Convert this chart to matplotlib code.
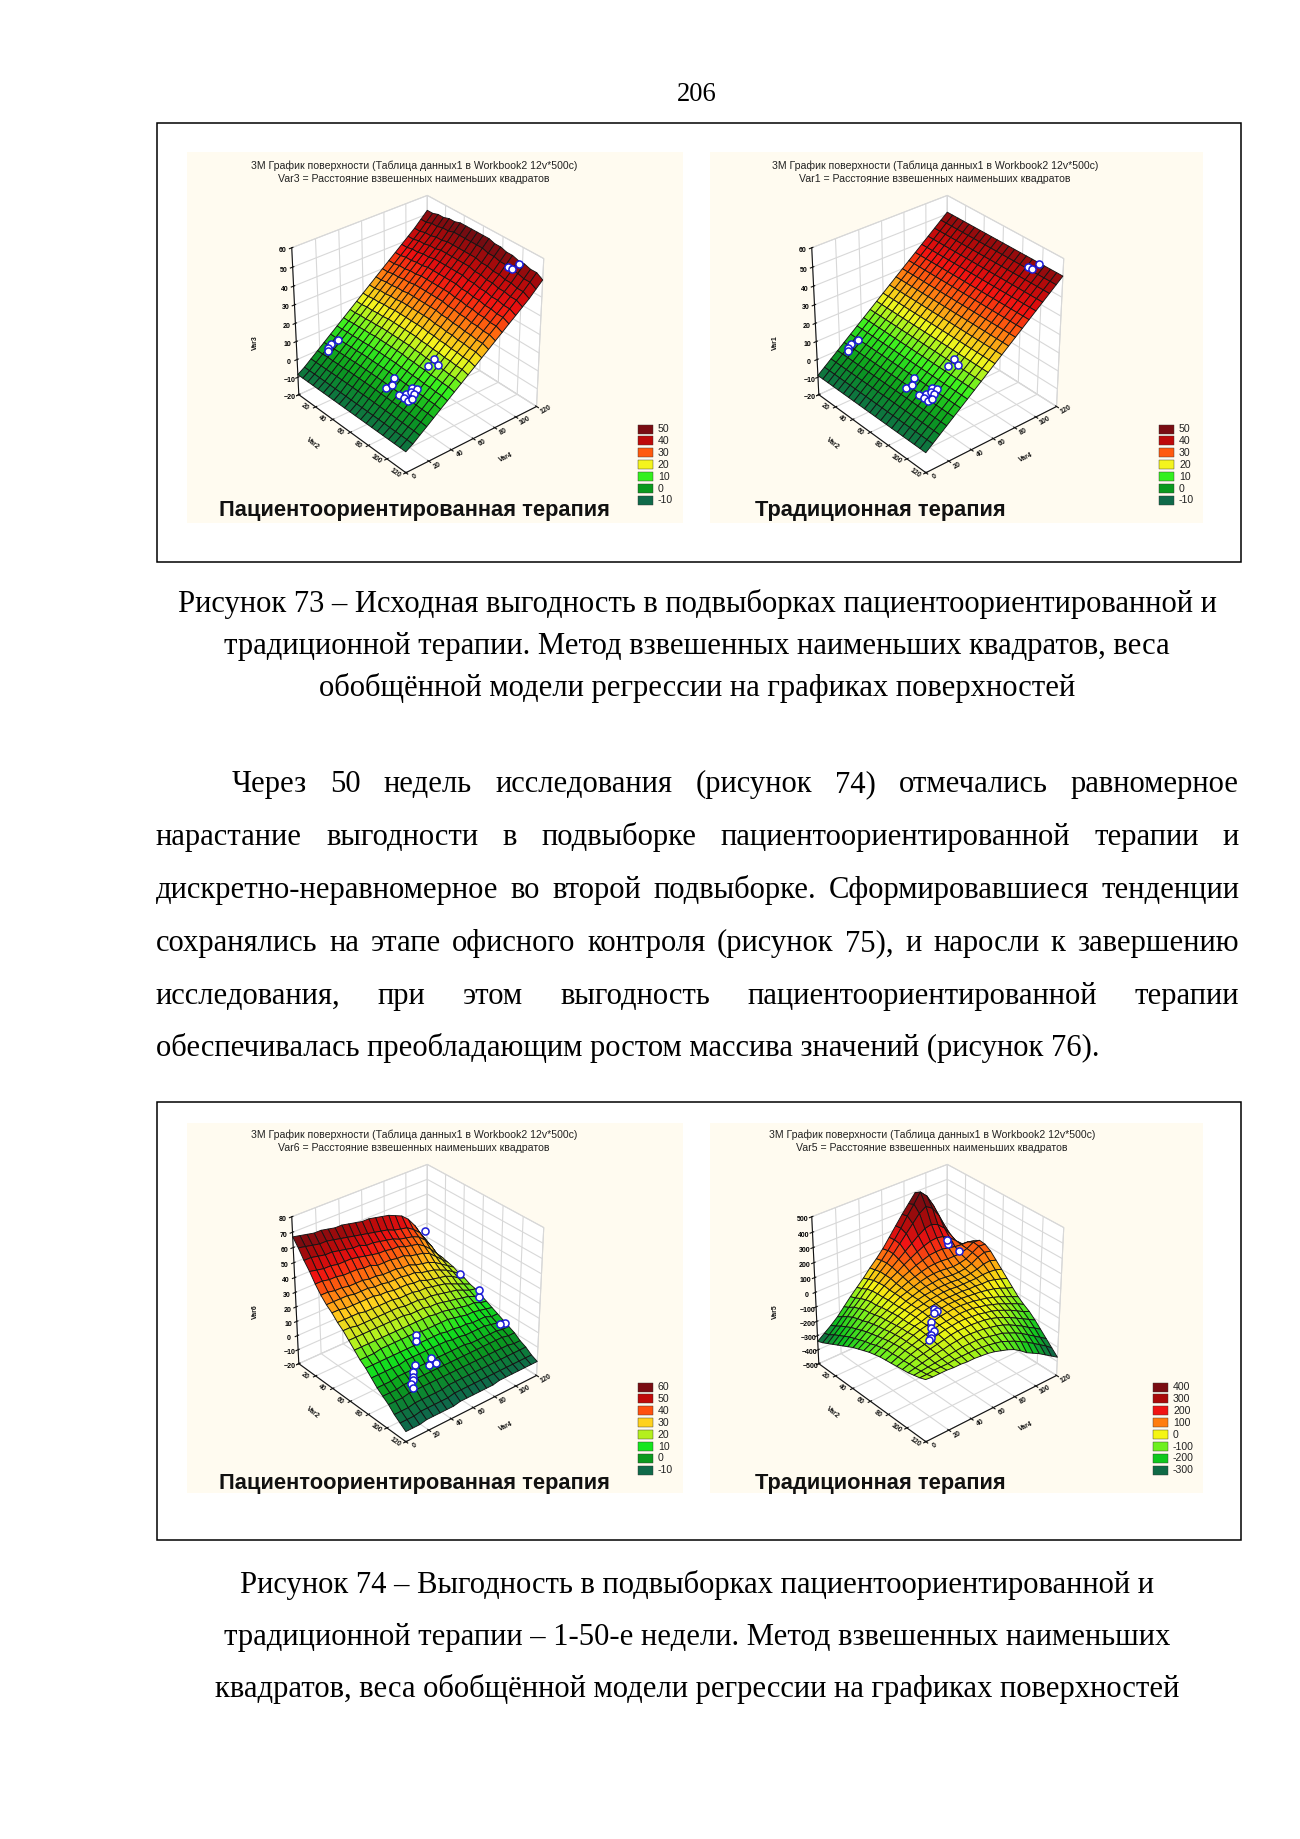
import numpy as np
import matplotlib
matplotlib.use('Agg')
import matplotlib.pyplot as plt
from matplotlib.colors import LinearSegmentedColormap, Normalize
from matplotlib.patches import Rectangle
from mpl_toolkits.mplot3d import proj3d

plt.rcParams['font.family'] = ['Liberation Sans', 'DejaVu Sans']

# подписи страницы
page_number = '206'
caption_73 = ['Рисунок 73 – Исходная выгодность в подвыборках пациентоориентированной и',
              'традиционной терапии. Метод взвешенных наименьших квадратов, веса',
              'обобщённой модели регрессии на графиках поверхностей']
caption_74 = ['Рисунок 74 – Выгодность в подвыборках пациентоориентированной и',
              'традиционной терапии – 1-50-е недели. Метод взвешенных наименьших',
              'квадратов, веса обобщённой модели регрессии на графиках поверхностей']
body_lines = ['Через 50 недель исследования (рисунок 74) отмечались равномерное',
              'нарастание выгодности в подвыборке пациентоориентированной терапии и',
              'дискретно-неравномерное во второй подвыборке. Сформировавшиеся тенденции',
              'сохранялись на этапе офисного контроля (рисунок 75), и наросли к завершению',
              'исследования, при этом выгодность пациентоориентированной терапии',
              'обеспечивалась преобладающим ростом массива значений (рисунок 76).']

title_top = '3М График поверхности (Таблица данных1 в Workbook2 12v*500c)'
title_var = ['Var3', 'Var1', 'Var6', 'Var5']
therapy_names = ['Пациентоориентированная терапия', 'Традиционная терапия',
                 'Пациентоориентированная терапия', 'Традиционная терапия']

# оси
x_ticks = [0, 20, 40, 60, 80, 100, 120]
y_ticks = [0, 20, 40, 60, 80, 100, 120]
z_ticks_50 = [-20, -10, 0, 10, 20, 30, 40, 50, 60]
z_ticks_60 = [-20, -10, 0, 10, 20, 30, 40, 50, 60, 70, 80]
z_ticks_400 = [-500, -400, -300, -200, -100, 0, 100, 200, 300, 400, 500]

# легенды
levels_50 = [50, 40, 30, 20, 10, 0, -10]
colors_50 = ['#7a0c12', '#be0a0a', '#ff5a0f', '#f4f41e', '#33f01e', '#0a9a1e', '#0f6a4a']
levels_60 = [60, 50, 40, 30, 20, 10, 0, -10]
colors_60 = ['#7a0c12', '#c00a0a', '#ff500f', '#ffd21e', '#b4f01e', '#14e61e', '#0a9a1e', '#0f6a4a']
levels_400 = [400, 300, 200, 100, 0, -100, -200, -300]
colors_400 = ['#7a0c12', '#aa0a0a', '#f01414', '#ff7d0f', '#f5f514', '#6ef01e', '#0fc81e', '#0f6a46']

# цвета самих поверхностей немного ярче легенды
surf_values_50 = [-10, 0, 10, 20, 30, 38, 47, 54]
surf_colors_50 = ['#0f6a4a', '#0a9a1e', '#33f01e', '#f4f41e', '#ff6a0f', '#f01010', '#b00a0a', '#6e0c12']
surf_values_60 = [-10, 0, 10, 20, 30, 40, 48, 57, 66]
surf_colors_60 = ['#0f6a4a', '#0a9a1e', '#14e61e', '#b4f01e', '#ffd21e', '#ff6a0f', '#f01010', '#b00a0a', '#6e0c12']
surf_values_400 = [-330, -230, -130, -30, 70, 170, 270, 400]
surf_colors_400 = ['#0f6a46', '#0fc81e', '#6ef01e', '#f5f514', '#ff7d0f', '#f01414', '#aa0a0a', '#6e0c12']

# поверхность Var3, строки по x, столбцы по y
z1_a = [-8.5, -6, -3, 0, 3, 6, 9, 12, 15, 18, 21, 24, 27, 30, 33, 36, 39, 42, 45, 48.5, 52]
z1_b = [-8.5, -5.9, -2.9, .2, 3.2, 6.3, 9.3, 12.4, 15.4, 18.5, 21.5, 24.6, 27.6, 30.7, 33.7, 36.8, 39.8, 42.9, 45.9, 49.5, 53]
z1_c = [-8.5, -5.9, -2.8, .3, 3.4, 6.5, 9.6, 12.7, 15.8, 18.9, 22, 25.1, 28.2, 31.3, 34.4, 37.5, 40.6, 43.7, 46.8, 50.4, 54]
z1_d = [-8.5, -5.9, -2.7, .5, 3.6, 6.8, 9.9, 13.1, 16.2, 19.4, 22.5, 25.7, 28.8, 32, 35.1, 38.3, 41.4, 44.6, 47.7, 51.4, 55]
z1_e = [-8.5, -6, -3.1, -.2, 2.8, 5.8, 8.7, 11.7, 14.6, 17.6, 20.5, 23.5, 26.4, 29.4, 32.3, 35.3, 38.2, 41.2, 44.1, 47.5, 51]
z1_f = [-8.5, -6.2, -3.3, -.5, 2.4, 5.3, 8.1, 11, 13.8, 16.7, 19.5, 22.4, 25.2, 28.1, 30.9, 33.8, 36.6, 39.5, 42.3, 45.7, 49]
z_var3 = [z1_a, z1_a, z1_b, z1_b, z1_c, z1_c, z1_d, z1_d, z1_d, z1_d, z1_d,
          z1_d, z1_c, z1_c, z1_b, z1_b, z1_a, z1_a, z1_e, z1_e, z1_f]

# поверхность Var1 - плоскость, одна строка на все x
z_var1_row = [-9, -6, -3, 0, 3, 6, 9, 12, 15, 18, 21, 24, 27, 30, 33, 36, 39, 42, 45, 48, 51]
z_var1 = [z_var1_row] * 21

z_var6 = [
    [67, 66, 65, 64, 64, 63, 62, 62, 61, 60, 59, 59, 58, 57, 56, 54, 52, 48, 42, 34, 24],
    [62, 61, 60, 59, 59, 58, 57, 56, 55, 54, 53, 52, 51, 50, 48, 47, 46, 43, 39, 32, 23],
    [56, 56, 55, 54, 54, 53, 52, 51, 51, 49, 49, 48, 47, 46, 44, 43, 42, 40, 36, 30, 22],
    [51, 50, 49, 49, 48, 48, 48, 47, 46, 45, 44, 44, 43, 43, 41, 40, 39, 36, 32, 27, 22],
    [45, 45, 44, 44, 43, 43, 43, 42, 42, 40, 40, 40, 39, 39, 37, 36, 35, 33, 29, 25, 21],
    [40, 40, 39, 39, 38, 38, 38, 37, 37, 36, 36, 36, 35, 35, 33, 32, 31, 29, 26, 23, 20],
    [36, 36, 36, 36, 35, 35, 35, 34, 34, 33, 33, 33, 32, 32, 30, 29, 28, 26, 24, 21, 18],
    [33, 33, 32, 32, 32, 32, 32, 31, 31, 30, 30, 30, 29, 29, 27, 26, 25, 24, 22, 19, 17],
    [29, 29, 29, 29, 28, 28, 28, 28, 28, 27, 27, 27, 26, 26, 25, 24, 23, 21, 19, 17, 15],
    [26, 26, 25, 25, 25, 25, 25, 25, 25, 24, 24, 24, 23, 23, 22, 21, 20, 19, 17, 15, 14],
    [22, 22, 22, 22, 22, 22, 22, 22, 22, 21, 21, 21, 20, 20, 19, 18, 17, 16, 15, 13, 12],
    [18, 18, 18, 18, 18, 18, 18, 18, 18, 18, 18, 18, 17, 17, 16, 15, 14, 13, 13, 11, 10],
    [14, 14, 14, 15, 15, 15, 15, 15, 15, 14, 14, 14, 14, 14, 13, 12, 11, 11, 10, 9, 8],
    [11, 11, 11, 11, 11, 11, 11, 11, 11, 11, 11, 11, 10, 10, 9, 9, 8, 8, 8, 6, 6],
    [7, 7, 7, 7, 7, 8, 8, 8, 8, 8, 8, 8, 7, 7, 6, 6, 6, 6, 5, 4, 4],
    [3, 3, 3, 4, 4, 4, 4, 4, 4, 4, 4, 4, 4, 4, 3, 3, 3, 3, 3, 2, 2],
    [0, 0, 0, 1, 1, 1, 1, 1, 1, 1, 1, 1, 1, 1, 1, 1, 1, 1, 1, 0, 0],
    [-3, -3, -3, -2, -2, -2, -2, -2, -2, -2, -2, -2, -2, -2, -2, -2, -2, -2, -2, -3, -3],
    [-7, -7, -7, -6, -6, -6, -6, -6, -5, -5, -5, -5, -5, -5, -5, -5, -5, -5, -5, -5, -5],
    [-10, -10, -10, -9, -9, -9, -9, -9, -8, -8, -8, -8, -8, -8, -8, -8, -8, -8, -8, -8, -8],
    [-13, -13, -13, -12, -12, -12, -12, -12, -11, -11, -11, -11, -11, -11, -10, -10, -10, -10, -10, -10, -10],
]

z_var5 = [
    [-340, -305, -270, -230, -180, -130, -85, -40, 10, 55, 105, 165, 225, 285, 340, 395, 365, 290, 180, 60, -40],
    [-325, -290, -250, -205, -160, -115, -70, -25, 20, 65, 115, 170, 230, 295, 355, 420, 375, 295, 180, 60, -35],
    [-305, -265, -225, -180, -135, -95, -50, -10, 30, 70, 115, 165, 215, 265, 315, 345, 315, 250, 155, 50, -35],
    [-285, -245, -205, -160, -120, -80, -40, -5, 30, 65, 100, 135, 170, 205, 235, 245, 225, 185, 120, 45, -20],
    [-265, -225, -185, -145, -105, -70, -35, 0, 30, 55, 85, 110, 135, 155, 170, 175, 165, 140, 100, 60, 35],
    [-245, -205, -170, -135, -100, -70, -35, -5, 20, 45, 65, 85, 100, 115, 120, 120, 110, 100, 95, 95, 85],
    [-225, -190, -155, -120, -90, -60, -30, -5, 15, 35, 50, 65, 75, 80, 80, 75, 75, 75, 90, 115, 110],
    [-205, -175, -140, -110, -80, -55, -30, -5, 10, 25, 40, 50, 55, 55, 50, 45, 50, 60, 85, 110, 105],
    [-190, -160, -130, -100, -75, -50, -30, -10, 5, 20, 30, 35, 40, 35, 30, 30, 35, 50, 75, 90, 80],
    [-175, -150, -120, -95, -70, -45, -25, -10, 5, 15, 20, 25, 25, 25, 20, 20, 25, 35, 50, 55, 40],
    [-160, -135, -110, -85, -65, -45, -25, -10, 0, 10, 15, 20, 20, 15, 15, 15, 15, 20, 20, 15, 0],
    [-150, -125, -100, -80, -60, -45, -25, -10, 0, 5, 10, 10, 10, 10, 5, 5, 0, 0, -10, -25, -40],
    [-140, -115, -95, -75, -60, -40, -30, -15, -5, 0, 5, 5, 5, 0, -5, -10, -20, -30, -45, -65, -80],
    [-135, -115, -90, -75, -55, -40, -30, -20, -10, -5, 0, 0, -5, -10, -20, -30, -45, -60, -80, -100, -120],
    [-130, -110, -90, -75, -60, -45, -35, -25, -20, -15, -10, -10, -15, -25, -35, -50, -65, -85, -105, -125, -150],
    [-125, -110, -90, -75, -65, -50, -40, -30, -25, -20, -20, -25, -30, -40, -50, -65, -85, -105, -130, -155, -175],
    [-120, -105, -90, -80, -70, -60, -50, -40, -35, -35, -35, -40, -45, -55, -70, -90, -110, -135, -160, -185, -210],
    [-115, -105, -95, -85, -75, -70, -60, -55, -50, -50, -55, -60, -70, -80, -95, -115, -140, -165, -195, -220, -250],
    [-105, -100, -95, -90, -85, -80, -75, -70, -70, -70, -75, -85, -95, -105, -125, -145, -170, -200, -230, -260, -290],
    [-95, -95, -90, -90, -90, -85, -85, -85, -85, -90, -95, -105, -115, -135, -155, -180, -205, -235, -265, -295, -330],
    [-80, -85, -85, -85, -90, -90, -95, -95, -100, -105, -115, -130, -145, -165, -195, -230, -255, -280, -310, -340, -370],
]

# точки наблюдений
pts_var3_x = [7, 7, 10, 9, 92, 96, 98, 85, 90, 90, 90, 95, 95, 97, 95, 92, 90, 90, 96, 72, 75, 72]
pts_var3_y = [22, 25, 29, 21, 114, 114.5, 119, 23, 23, 25, 30, 31, 23, 25, 28, 28, 44.5, 49.5, 48, 29, 25, 22]
pts_var3_z = [2.6, 4.3, 6, 2, 49, 49, 51, 3, 3, 4.3, 6.5, 7, 3, 4, 5.5, 5.5, 14, 16.5, 15.5, 6, 4.3, 2.6]

pts_var6_x = [2, 43, 58, 60, 86, 85, 73, 76, 88, 91, 94, 96, 97, 100, 92, 93, 89]
pts_var6_y = [116, 115, 120, 118, 120, 116, 48, 46, 35, 30, 28, 26, 24, 23, 44, 49, 48]
pts_var6_z = [36, 22, 15, 11, 3, 3, 14, 12, 5, 3, 2, 1, 0, -1, 3, 3, 5]

pts_var5_x = [2, 2, 14, 69, 72, 73, 78, 83, 87, 89, 92, 92]
pts_var5_y = [118, 119, 120, 50, 50, 46, 40, 35, 35, 30, 28, 26]
pts_var5_z = [-10, -35, -45, -5, -5, -5, -20, -25, -25, -30, -30, -32]

# положение панелей на странице, пиксели
panel_boxes = [(187, 152, 683, 523), (710, 152, 1203, 523),
               (187, 1123, 683, 1493), (710, 1123, 1203, 1493)]
box_centers = [(417, 329), (937, 329), (417, 1298), (937, 1298)]
title_x = [414, 935, 414, 932]
title_y = [166, 166, 1135, 1135]
therapy_x = [219, 755, 219, 755]
therapy_y = [510, 510, 1483, 1483]
legend_x = [638, 1159, 638, 1153]
legend_y = [429, 429, 1387, 1387]

AX_SIZE = 292
SERIF = ['Liberation Serif', 'DejaVu Serif']
TEXT_SIZE = 22.1

fig = plt.figure(figsize=(13, 18.39), dpi=100)
page = fig.add_axes([0, 0, 1, 1])
page.set_xlim(0, 1300)
page.set_ylim(1839, 0)
page.axis('off')
renderer = fig.canvas.get_renderer()


def justified(line, x0, x1, y):
    words = line.split()
    items = [page.text(0, y, w, family=SERIF, fontsize=TEXT_SIZE, va='baseline') for w in words]
    widths = [t.get_window_extent(renderer).width for t in items]
    gap = (x1 - x0 - sum(widths)) / (len(words) - 1)
    x = x0
    for t, w in zip(items, widths):
        t.set_x(x)
        x += w + gap


def label3d(ax, x, y, z, s, rotation):
    # точка из 3D переводится в координаты страницы
    ax.apply_aspect()
    px, py, _ = proj3d.proj_transform(x, y, z, ax.get_proj())
    disp = ax.transData.transform((px, py))
    pos = page.transData.inverted().transform(disp)
    page.text(pos[0], pos[1], s, fontsize=5, rotation=rotation, ha='center', va='center',
              color='#111111', fontweight='bold')


def draw_panel(k, z_grid, z_ticks, levels, colors, surf_values, surf_colors, pts_x, pts_y, pts_z):
    x0, y0, x1, y1 = panel_boxes[k]
    page.add_patch(Rectangle((x0, y0), x1 - x0, y1 - y0, fc='#fffbf0', ec='none'))
    page.text(title_x[k], title_y[k], title_top, ha='center', va='center', fontsize=7.6, color='#222222')
    page.text(title_x[k], title_y[k] + 13,
              title_var[k] + ' = Расстояние взвешенных наименьших квадратов',
              ha='center', va='center', fontsize=7.6, color='#222222')
    page.text(therapy_x[k], therapy_y[k], therapy_names[k], ha='left', va='center',
              fontsize=15.75, fontweight='bold', color='#111111')

    # легенда
    for n, (lev, col) in enumerate(zip(levels, colors)):
        yc = legend_y[k] + n * 11.9
        page.add_patch(Rectangle((legend_x[k], yc - 4.5), 15, 9, fc=col, ec='#333333', lw=0.3))
        page.text(legend_x[k] + 20, yc, str(lev), ha='left', va='center', fontsize=7.6, color='#222222')

    cx, cy = box_centers[k]
    left = cx - 0.5135 * AX_SIZE
    top = cy - 0.4865 * AX_SIZE
    ax = fig.add_axes([left / 1300, 1 - (top + AX_SIZE) / 1839, AX_SIZE / 1300, AX_SIZE / 1839],
                      projection='3d', computed_zorder=False)
    ax.patch.set_visible(False)
    ax.view_init(elev=32, azim=-40)
    ax.set_box_aspect((1, 1, 1))

    z = np.array(z_grid, dtype=float)
    xs = np.linspace(x_ticks[0], x_ticks[-1], z.shape[0])
    ys = np.linspace(y_ticks[0], y_ticks[-1], z.shape[1])
    X, Y = np.meshgrid(xs, ys, indexing='ij')

    lo, hi = surf_values[0], surf_values[-1]
    stops = [(v - lo) / (hi - lo) for v in surf_values]
    cmap = LinearSegmentedColormap.from_list('surf', list(zip(stops, surf_colors)))
    ax.plot_surface(X, Y, z, cmap=cmap, norm=Normalize(lo, hi), rstride=1, cstride=1, shade=False,
                    edgecolor='#141414', linewidth=0.65, antialiased=True, zorder=2)
    ax.scatter(pts_x, pts_y, pts_z, s=26, facecolor='white', edgecolor='#1c1cd8', linewidth=1.1,
               depthshade=False, zorder=3)

    zmin, zmax = z_ticks[0], z_ticks[-1]
    zr = zmax - zmin
    ax.set_xlim(x_ticks[0], x_ticks[-1])
    ax.set_ylim(y_ticks[0], y_ticks[-1])
    ax.set_zlim(zmin, zmax)
    ax.set_xticks(x_ticks)
    ax.set_yticks(y_ticks)
    ax.set_zticks(z_ticks)
    ax.set_xticklabels([])
    ax.set_yticklabels([])
    ax.tick_params(axis='both', length=2, width=0.5, color='#111111')
    ax.tick_params(axis='z', labelsize=5, pad=-4, length=2, width=0.5, color='#111111')
    ax.zaxis.set_ticks_position('lower')
    for t in ax.get_zticklabels():
        t.set_fontweight('bold')

    # подписи осей x и y ставим сами: у стандартных другое смещение
    for v in x_ticks[1:]:
        label3d(ax, v, y_ticks[0] - 9, zmin + 0.036 * zr, str(v), -35)
    for v in y_ticks:
        label3d(ax, x_ticks[-1] + 9, v, zmin + 0.014 * zr, str(v), 30)
    label3d(ax, 60, y_ticks[0] - 32, zmin + 0.043 * zr, 'Var2', -40)
    label3d(ax, x_ticks[-1] + 33, 60, zmin + 0.022 * zr, 'Var4', 25)
    label3d(ax, 0, y_ticks[0] - 34, zmin + 0.485 * zr, title_var[k], 90)

    for axis in (ax.xaxis, ax.yaxis, ax.zaxis):
        axis.set_pane_color((1, 1, 1, 1))
        axis.pane.set_edgecolor('#d4d4d4')
        axis.pane.set_linewidth(0.7)
        axis.line.set_linewidth(0.8)
        axis.line.set_color('#111111')
        axis._axinfo['grid'].update(color='#d8d8d8', linewidth=0.8)
    return ax


draw_panel(0, z_var3, z_ticks_50, levels_50, colors_50, surf_values_50, surf_colors_50,
           pts_var3_x, pts_var3_y, pts_var3_z)
draw_panel(1, z_var1, z_ticks_50, levels_50, colors_50, surf_values_50, surf_colors_50,
           pts_var3_x, pts_var3_y, pts_var3_z)
draw_panel(2, z_var6, z_ticks_60, levels_60, colors_60, surf_values_60, surf_colors_60,
           pts_var6_x, pts_var6_y, pts_var6_z)
draw_panel(3, z_var5, z_ticks_400, levels_400, colors_400, surf_values_400, surf_colors_400,
           pts_var5_x, pts_var5_y, pts_var5_z)

# рамки вокруг рисунков
for y0, y1 in [(123, 562), (1102, 1540)]:
    page.add_patch(Rectangle((157, y0), 1084, y1 - y0, fc='none', ec='black', lw=1.1))

# текст страницы
page.text(697, 101, page_number, family=SERIF, fontsize=TEXT_SIZE - 3, ha='center', va='baseline')
for line, y in zip(caption_73, [612, 654, 696]):
    page.text(697, y, line, family=SERIF, fontsize=TEXT_SIZE, ha='center', va='baseline')
for line, y in zip(caption_74, [1593, 1645, 1697]):
    page.text(697, y, line, family=SERIF, fontsize=TEXT_SIZE, ha='center', va='baseline')

body_y = [792, 845, 898, 951, 1004, 1056]
justified(body_lines[0], 232, 1239, body_y[0])
for line, y in zip(body_lines[1:5], body_y[1:5]):
    justified(line, 156, 1239, y)
page.text(156, body_y[5], body_lines[5], family=SERIF, fontsize=TEXT_SIZE, va='baseline')

fig.savefig('out.png', dpi=100)
